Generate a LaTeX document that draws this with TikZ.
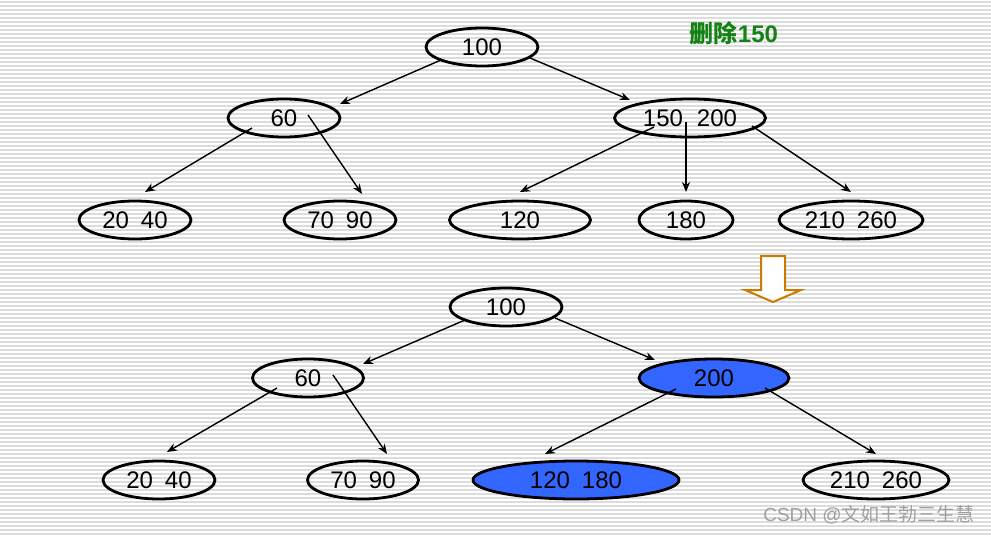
\documentclass[tikz,border=0pt]{standalone}
\usepackage{fontspec}
\setmainfont{Liberation Sans}
\newfontfamily\cjk{Noto Sans CJK SC}
\usetikzlibrary{shapes.geometric,arrows.meta,calc}
\definecolor{stripe}{RGB}{220,220,220}
\definecolor{bluefill}{RGB}{51,102,255}
\definecolor{delgreen}{RGB}{20,130,20}
\definecolor{orangearrow}{RGB}{204,122,0}
\definecolor{wm}{RGB}{160,160,160}
\tikzset{
  keynode/.style={ellipse, draw=black, line width=2.8pt, inner sep=0pt,
    minimum height=38pt, font=\fontsize{24}{26}\selectfont},
  bluenode/.style={keynode, fill=bluefill},
  link/.style={line width=1.4pt, -{Stealth[length=10pt,width=8pt]}},
}
\begin{document}
\begin{tikzpicture}[x=1pt,y=-1pt]
\useasboundingbox (0,0) rectangle (991,535);
\fill[white] (0,0) rectangle (991,535);
\foreach \yy in {2,6,...,534} {\draw[stripe, line width=1.3pt] (0,\yy) -- (991,\yy);}

% top tree
\node[keynode, minimum width=112pt] (t100) at (482,47) {100};
\node[keynode, minimum width=112pt] (t60) at (284,118) {60};
\node[keynode, minimum width=151pt] (t150) at (690,118) {150\hspace{14pt}200};
\node[keynode, minimum width=112pt] (t2040) at (135,220) {20\hspace{12pt}40};
\node[keynode, minimum width=112pt] (t7090) at (340,220) {70\hspace{12pt}90};
\node[keynode, minimum width=141pt] (t120) at (520,220) {120};
\node[keynode, minimum width=94pt] (t180) at (686,220) {180};
\node[keynode, minimum width=144pt] (t210) at (851,220) {210\hspace{12pt}260};

\coordinate (s1) at ($(t100)+(-41,13)$);   \coordinate (e1) at ($(t60)+(56,-14)$);
\coordinate (s2) at ($(t100)+(48,11)$);    \coordinate (e2) at ($(t150)+(-60,-18)$);
\coordinate (s3) at ($(t60)+(-32,10)$);    \coordinate (e3) at ($(t2040)+(10,-28)$);
\coordinate (s4) at ($(t60)+(24,-3)$);     \coordinate (e4) at ($(t7090)+(22,-26)$);
\coordinate (s5) at ($(t150)+(-36,9)$);    \coordinate (e5) at ($(t120)+(0,-28)$);
\coordinate (s6) at ($(t150)+(-4,4)$);     \coordinate (e6) at ($(t180)+(0,-28)$);
\coordinate (s7) at ($(t150)+(62,8)$);     \coordinate (e7) at ($(t210)+(0,-28)$);
\draw[link] (s1) -- (e1);
\draw[link] (s2) -- (e2);
\draw[link] (s3) -- (e3);
\draw[link] (s4) -- (e4);
\draw[link] (s5) -- (e5);
\draw[link] (s6) -- (e6);
\draw[link] (s7) -- (e7);

% label
\node[font=\fontsize{24}{26}\selectfont\bfseries, text=delgreen] (lbl) at (734,33) {{\cjk 删除}150};

% hollow arrow
\draw[orangearrow, line width=2pt, fill=white]
  (761,256) -- (785,256) -- (785,290) -- (801,290) -- (773,302) -- (745,290) -- (761,290) -- cycle;

% bottom tree
\node[keynode, minimum width=112pt] (b100) at (506,307) {100};
\node[keynode, minimum width=111pt] (b60) at (308,378) {60};
\node[bluenode, minimum width=150pt] (b200) at (714,378) {200};
\node[keynode, minimum width=112pt] (b2040) at (159,480) {20\hspace{12pt}40};
\node[keynode, minimum width=111pt] (b7090) at (363,480) {70\hspace{12pt}90};
\node[bluenode, minimum width=206pt] (b120) at (576,480) {120\hspace{12pt}180};
\node[keynode, minimum width=146pt] (b210) at (876,480) {210\hspace{12pt}260};

\coordinate (u1) at ($(b100)+(-41,13)$);   \coordinate (f1) at ($(b60)+(55,-14)$);
\coordinate (u2) at ($(b100)+(49,11)$);    \coordinate (f2) at ($(b200)+(-59,-18)$);
\coordinate (u3) at ($(b60)+(-31,10)$);    \coordinate (f3) at ($(b2040)+(8,-28)$);
\coordinate (u4) at ($(b60)+(25,-3)$);     \coordinate (f4) at ($(b7090)+(24,-26)$);
\coordinate (u5) at ($(b200)+(-38,11)$);   \coordinate (f5) at ($(b120)+(-31,-26)$);
\coordinate (u6) at ($(b200)+(51,10)$);    \coordinate (f6) at ($(b210)+(0,-26)$);
\draw[link] (u1) -- (f1);
\draw[link] (u2) -- (f2);
\draw[link] (u3) -- (f3);
\draw[link] (u4) -- (f4);
\draw[link] (u5) -- (f5);
\draw[link] (u6) -- (f6);

% watermark
\node[font=\fontsize{19}{22}\selectfont, text=wm] (wmk) at (869,515) {CSDN @{\cjk 文如王勃三生慧}};
\end{tikzpicture}
\end{document}
